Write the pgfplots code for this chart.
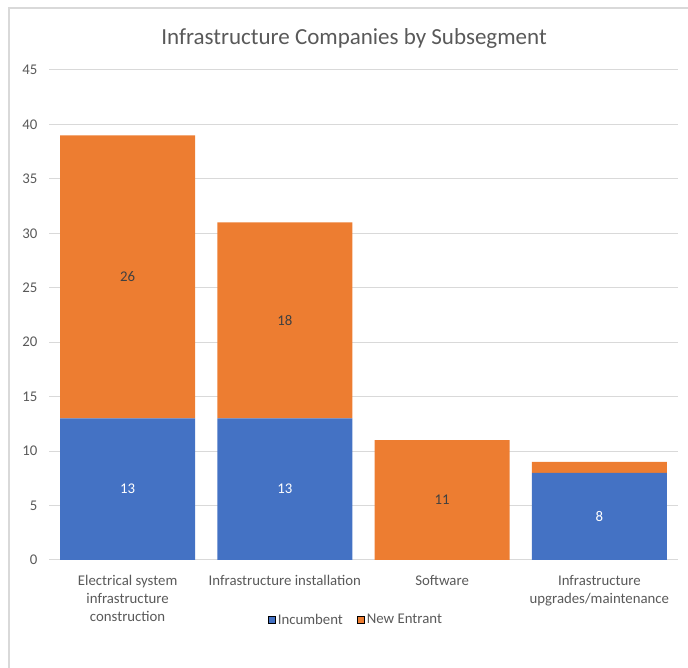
\documentclass[border=0pt]{standalone}
\usepackage{pgfplots}
\pgfplotsset{compat=1.18}
\usepackage{fontspec}
\setmainfont{Carlito}
\definecolor{incblue}{HTML}{4472C4}
\definecolor{neworange}{HTML}{ED7D31}
\definecolor{txtgray}{HTML}{595959}
\definecolor{lbldark}{HTML}{404040}
\definecolor{gridgray}{HTML}{D9D9D9}
\pgfplotsset{
    sqleg/.style={legend image code/.code={\draw[##1] (0pt,-3.5pt) rectangle (7.5pt,4pt);}},
}
\begin{document}
\begin{tikzpicture}
\path[use as bounding box] (0,0) rectangle (688pt,668pt);
% chart frame (only left and top edges fall inside the crop)
\draw[gridgray, line width=1.5pt] (9pt,0pt) -- (9pt,660pt) -- (688pt,660pt);
\node[txtgray, font=\fontsize{23}{27}\selectfont] at (354pt,629pt) {Infrastructure Companies by Subsegment};

\begin{axis}[
    at={(49pt,108pt)}, anchor=south west,
    width=629pt, height=490pt, scale only axis,
    ybar stacked, bar width=135pt,
    xmin=-0.5, xmax=3.5, ymin=0, ymax=45,
    xtick=data,
    xticklabels={{Electrical system\\infrastructure\\construction},{Infrastructure installation},{Software},{Infrastructure\\upgrades/maintenance}},
    ytick={0,5,...,45},
    ymajorgrids=true,
    grid style={gridgray, line width=1pt},
    axis line style={draw=none},
    major tick length=0pt,
    tick label style={txtgray, font=\fontsize{14.8}{18}\selectfont},
    xticklabel style={align=center, yshift=-12pt},
    yticklabel style={xshift=-8pt},
    /pgf/number format/assume math mode=true,
    legend columns=2,
    legend style={at={(0.488,-0.1224)}, anchor=center, draw=none, fill=none,
        font=\fontsize{14.8}{18}\selectfont, text=txtgray,
        /tikz/every even column/.append style={column sep=12pt}},
]
\addplot[fill=incblue, draw=none, sqleg]
    coordinates {(0,13) (1,13) (2,0) (3,8)};
\addplot[fill=neworange, draw=none, sqleg]
    coordinates {(0,26) (1,18) (2,11) (3,1)};
\legend{Incumbent, New Entrant}
\end{axis}

% data labels, centred in their segments
\begin{axis}[
    at={(49pt,108pt)}, anchor=south west,
    width=629pt, height=490pt, scale only axis,
    xmin=-0.5, xmax=3.5, ymin=0, ymax=45,
    hide axis,
    nodes near coords, point meta=explicit symbolic,
    every node near coord/.append style={anchor=center, font=\fontsize{14.8}{18}\selectfont},
]
\addplot[draw=none, mark=none, nodes near coords style={text=white}]
    coordinates {(0,6.5)[13] (1,6.5)[13] (3,4)[8]};
\addplot[draw=none, mark=none, nodes near coords style={text=lbldark}]
    coordinates {(0,26)[26] (1,22)[18] (2,5.5)[11]};
\end{axis}
\end{tikzpicture}
\end{document}
